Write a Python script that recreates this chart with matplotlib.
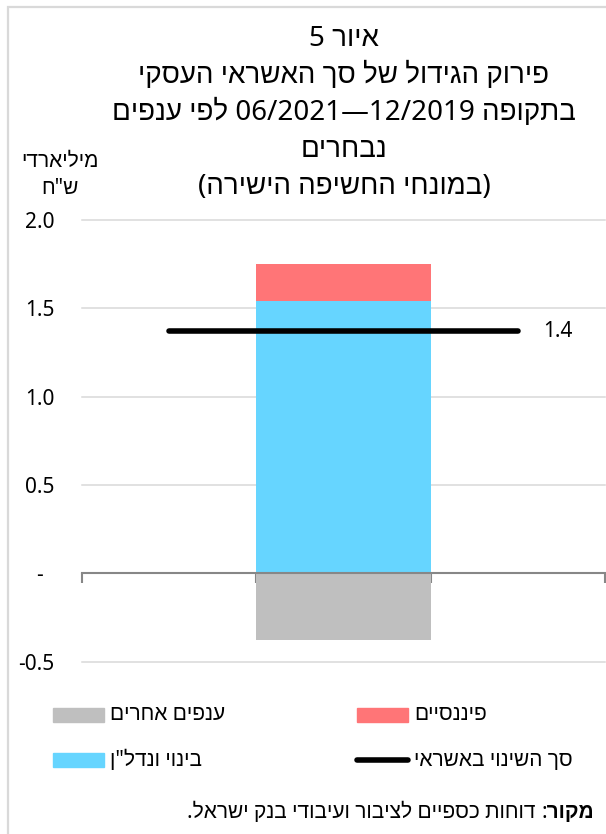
import re
import numpy as np
import matplotlib
matplotlib.use("Agg")
import matplotlib.pyplot as plt
from matplotlib.patches import Rectangle
from matplotlib.lines import Line2D

plt.rcParams['font.family'] = ['Noto Sans', 'Liberation Sans', 'DejaVu Sans']

# data (billions NIS), one stacked bar in the middle slot
slots = np.arange(3)
build_vals = [0, 1.54, 0]      # construction and real estate
fin_vals = [0, 0.21, 0]        # financial
other_vals = [0, -0.38, 0]     # other industries
total_change = [1.37, 1.37, 1.37]

yticks = [-0.5, 0, 0.5, 1.0, 1.5, 2.0]
ytick_labels = ['-0.5', '-  ', '0.5', '1.0', '1.5', '2.0']

title_lines = ['איור 5',
               'פירוק הגידול של סך האשראי העסקי',
               'בתקופה 12/2019—06/2021 לפי ענפים',
               'נבחרים',
               '(במונחי החשיפה הישירה)']
unit_lines = ['מיליארדי', 'ש"ח']
leg_other = 'ענפים אחרים'
leg_fin = 'פיננסיים'
leg_build = 'בינוי ונדל"ן'
leg_total = 'סך השינוי באשראי'
src_bold = 'מקור:'
src_text = 'דוחות כספיים לציבור ועיבודי בנק ישראל.'

c_build = '#66D5FF'
c_fin = '#FF7577'
c_other = '#BFBFBF'


def rtl(s):
    # simple visual ordering for hebrew: flip everything, put number runs back
    r = s[::-1]
    r = re.sub(r'[0-9][0-9/.,]*', lambda m: m.group(0)[::-1], r)
    return r.translate(str.maketrans('()', ')('))


W, H = 606, 834
fig = plt.figure(figsize=(W / 100, H / 100), dpi=100)


def fx(px):
    return px / W


def fy(py):
    return 1 - py / H


# outer frame
fig.add_artist(Rectangle((fx(8), fy(840)), fx(620), fy(7) - fy(840), transform=fig.transFigure,
                         fill=False, ec='#D9D9D9', lw=1.6))

ax = fig.add_axes([fx(82), fy(661.7), fx(605) - fx(82), fy(220) - fy(661.7)])
ax.set_xlim(-0.5, 2.5)
ax.set_ylim(-0.5, 2.0)

for y in yticks:
    if y != 0:
        ax.axhline(y, color='#D9D9D9', lw=1.1, zorder=1, clip_on=False)

ax.bar(slots, build_vals, width=1.0, color=c_build, zorder=2)
ax.bar(slots, fin_vals, width=1.0, bottom=build_vals, color=c_fin, zorder=2)
ax.bar(slots, other_vals, width=1.0, color=c_other, zorder=2)
ax.plot(slots, total_change, color='black', lw=4.0, solid_capstyle='round', zorder=4)
ax.text(slots[-1] + 0.23, total_change[-1], f'{total_change[-1]:.1f}', ha='center', va='center',
        fontsize=15)

for s in ['top', 'left', 'right']:
    ax.spines[s].set_visible(False)
ax.spines['bottom'].set_position(('data', 0))
ax.spines['bottom'].set_color('#878787')
ax.spines['bottom'].set_linewidth(1.5)
ax.set_xticks([-0.5, 0.5, 1.5, 2.5])
ax.set_xticklabels([])
ax.tick_params(axis='x', length=7, width=1.5, color='#878787', direction='out')
ax.set_yticks(yticks)
ax.set_yticklabels(ytick_labels)
ax.tick_params(axis='y', length=0, pad=20, labelsize=15)

# titles
title_base = [46, 83, 120, 157, 194]
for line, yb in zip(title_lines, title_base):
    fig.text(fx(344), fy(yb), rtl(line), ha='center', va='baseline', fontsize=20)
for line, yb in zip(unit_lines, [167, 194]):
    fig.text(fx(60), fy(yb), rtl(line), ha='center', va='baseline', fontsize=15)

# legend
def leg_patch(x, y, color, label):
    fig.add_artist(Rectangle((fx(x), fy(y + 7)), fx(51), fy(0) - fy(14), transform=fig.transFigure,
                             color=color))
    fig.text(fx(x + 57), fy(y), rtl(label), ha='left', va='center', fontsize=15)


leg_patch(53, 715, c_other, leg_other)
leg_patch(357, 715, c_fin, leg_fin)
leg_patch(53, 760, c_build, leg_build)
fig.add_artist(Line2D([fx(357), fx(408)], [fy(760), fy(760)], transform=fig.transFigure,
                      color='black', lw=4.0, solid_capstyle='round'))
fig.text(fx(414), fy(760), rtl(leg_total), ha='left', va='center', fontsize=15)

# source
bold = fig.text(fx(594), fy(812), rtl(src_bold), ha='right', va='center', fontsize=15,
                fontweight='bold')
ax.annotate(rtl(src_text), xy=(0, 0.5), xycoords=bold, xytext=(-4, 0), textcoords='offset points',
            ha='right', va='center', fontsize=15, annotation_clip=False)

fig.savefig('out.png', dpi=100)
